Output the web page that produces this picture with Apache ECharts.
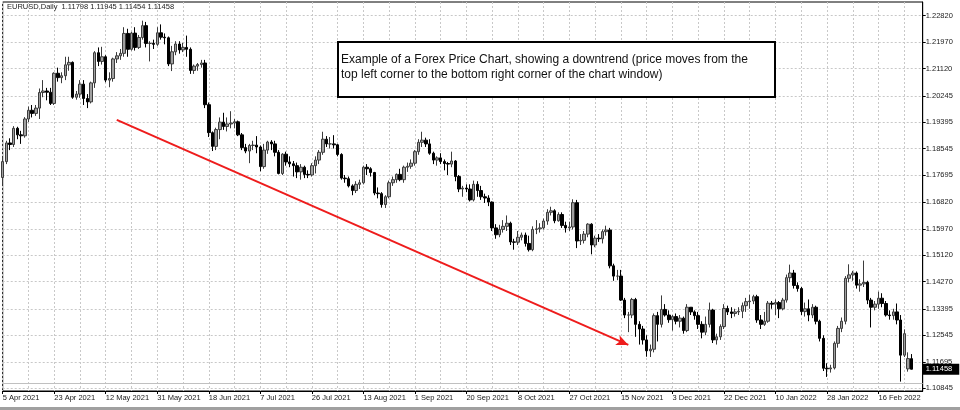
<!DOCTYPE html>
<html>
<head>
<meta charset="utf-8">
<title>EURUSD Daily</title>
<script src="https://cdn.jsdelivr.net/npm/echarts@6.0.0/dist/echarts.min.js"></script>
<style>
html, body { margin: 0; padding: 0; background: #fff; }
#chart { width: 960px; height: 410px; }
</style>
</head>
<body>
<div id="chart"></div>
<script>
var symbolName = 'EURUSD,Daily';

// one date label every 14 bars, a grid line every 7
var dateLabels = ['5 Apr 2021', '23 Apr 2021', '12 May 2021', '31 May 2021', '18 Jun 2021', '7 Jul 2021',
    '26 Jul 2021', '13 Aug 2021', '1 Sep 2021', '20 Sep 2021', '8 Oct 2021', '27 Oct 2021',
    '15 Nov 2021', '3 Dec 2021', '22 Dec 2021', '10 Jan 2022', '28 Jan 2022', '16 Feb 2022'];
var labelStep = 14;
var gridStep = 7;

var priceTicks = [1.22820, 1.21970, 1.21120, 1.20245, 1.19395, 1.18545, 1.17695, 1.16820,
    1.15970, 1.15120, 1.14270, 1.13395, 1.12545, 1.11695, 1.10845];
var bidPrice = 1.11458;

// daily bars: [open, close, low, high]
var candles = [
    [1.1762, 1.1813, 1.1740, 1.1826], [1.1813, 1.1873, 1.1805, 1.1880], [1.1873, 1.1868, 1.1850, 1.1888],
    [1.1868, 1.1920, 1.1860, 1.1927], [1.1920, 1.1899, 1.1885, 1.1925], [1.1899, 1.1896, 1.1870, 1.1912],
    [1.1896, 1.1950, 1.1890, 1.1956], [1.1950, 1.1978, 1.1940, 1.1990], [1.1978, 1.1968, 1.1955, 1.1995],
    [1.1968, 1.1985, 1.1960, 1.1995], [1.1985, 1.2035, 1.1950, 1.2048], [1.2035, 1.2040, 1.2020, 1.2075],
    [1.2040, 1.2036, 1.2010, 1.2050], [1.2036, 1.2000, 1.1995, 1.2050], [1.2000, 1.2097, 1.1995, 1.2100],
    [1.2097, 1.2083, 1.2070, 1.2115], [1.2083, 1.2089, 1.2065, 1.2100], [1.2089, 1.2124, 1.2075, 1.2150],
    [1.2124, 1.2132, 1.2105, 1.2150], [1.2132, 1.2020, 1.2015, 1.2135], [1.2020, 1.2030, 1.2012, 1.2040],
    [1.2030, 1.2062, 1.2018, 1.2075], [1.2062, 1.2016, 1.1995, 1.2075], [1.2016, 1.2005, 1.1985, 1.2030],
    [1.2005, 1.2066, 1.2000, 1.2070], [1.2066, 1.2163, 1.2050, 1.2168], [1.2163, 1.2135, 1.2120, 1.2180],
    [1.2135, 1.2150, 1.2125, 1.2182], [1.2150, 1.2075, 1.2068, 1.2155], [1.2075, 1.2080, 1.2052, 1.2100],
    [1.2080, 1.2143, 1.2070, 1.2147], [1.2143, 1.2153, 1.2130, 1.2165], [1.2153, 1.2161, 1.2140, 1.2175],
    [1.2161, 1.2225, 1.2150, 1.2245], [1.2225, 1.2174, 1.2150, 1.2240], [1.2174, 1.2226, 1.2170, 1.2230],
    [1.2226, 1.2180, 1.2170, 1.2245], [1.2180, 1.2212, 1.2175, 1.2220], [1.2212, 1.2250, 1.2205, 1.2266],
    [1.2250, 1.2193, 1.2180, 1.2262], [1.2193, 1.2193, 1.2135, 1.2200], [1.2193, 1.2190, 1.2175, 1.2205],
    [1.2190, 1.2227, 1.2185, 1.2245], [1.2227, 1.2213, 1.2205, 1.2254], [1.2213, 1.2211, 1.2190, 1.2225],
    [1.2211, 1.2127, 1.2120, 1.2215], [1.2127, 1.2166, 1.2104, 1.2185], [1.2166, 1.2191, 1.2155, 1.2200],
    [1.2191, 1.2172, 1.2160, 1.2200], [1.2172, 1.2180, 1.2165, 1.2195], [1.2180, 1.2174, 1.2150, 1.2218],
    [1.2174, 1.2106, 1.2095, 1.2180], [1.2106, 1.2120, 1.2095, 1.2125], [1.2120, 1.2125, 1.2105, 1.2130],
    [1.2125, 1.2130, 1.2115, 1.2140], [1.2130, 1.1996, 1.1985, 1.2140], [1.1996, 1.1906, 1.1892, 1.2003],
    [1.1906, 1.1862, 1.1847, 1.1910], [1.1862, 1.1916, 1.1850, 1.1922], [1.1916, 1.1940, 1.1885, 1.1955],
    [1.1940, 1.1926, 1.1915, 1.1970], [1.1926, 1.1934, 1.1910, 1.1955], [1.1934, 1.1937, 1.1920, 1.1975],
    [1.1937, 1.1941, 1.1920, 1.1950], [1.1941, 1.1899, 1.1895, 1.1945], [1.1899, 1.1858, 1.1850, 1.1905],
    [1.1858, 1.1847, 1.1840, 1.1870], [1.1847, 1.1865, 1.1808, 1.1870], [1.1865, 1.1866, 1.1850, 1.1880],
    [1.1866, 1.1860, 1.1840, 1.1895], [1.1860, 1.1797, 1.1782, 1.1865], [1.1797, 1.1850, 1.1790, 1.1870],
    [1.1850, 1.1876, 1.1838, 1.1880], [1.1876, 1.1870, 1.1850, 1.1882], [1.1870, 1.1843, 1.1830, 1.1880],
    [1.1843, 1.1775, 1.1772, 1.1850], [1.1775, 1.1837, 1.1770, 1.1840], [1.1837, 1.1812, 1.1800, 1.1845],
    [1.1812, 1.1806, 1.1795, 1.1830], [1.1806, 1.1800, 1.1765, 1.1815], [1.1800, 1.1780, 1.1760, 1.1810],
    [1.1780, 1.1795, 1.1755, 1.1805], [1.1795, 1.1772, 1.1760, 1.1800], [1.1772, 1.1770, 1.1760, 1.1785],
    [1.1770, 1.1800, 1.1765, 1.1808], [1.1800, 1.1818, 1.1775, 1.1830], [1.1818, 1.1843, 1.1805, 1.1850],
    [1.1843, 1.1885, 1.1835, 1.1909], [1.1885, 1.1870, 1.1860, 1.1895], [1.1870, 1.1870, 1.1855, 1.1892],
    [1.1870, 1.1867, 1.1855, 1.1898], [1.1867, 1.1836, 1.1830, 1.1870], [1.1836, 1.1760, 1.1755, 1.1840],
    [1.1760, 1.1758, 1.1745, 1.1770], [1.1758, 1.1735, 1.1730, 1.1765], [1.1735, 1.1720, 1.1705, 1.1740],
    [1.1720, 1.1740, 1.1712, 1.1750], [1.1740, 1.1745, 1.1725, 1.1755], [1.1745, 1.1795, 1.1740, 1.1800],
    [1.1795, 1.1790, 1.1770, 1.1805], [1.1790, 1.1778, 1.1765, 1.1795], [1.1778, 1.1712, 1.1705, 1.1780],
    [1.1712, 1.1710, 1.1695, 1.1730], [1.1710, 1.1675, 1.1665, 1.1715], [1.1675, 1.1700, 1.1664, 1.1705],
    [1.1700, 1.1745, 1.1695, 1.1752], [1.1745, 1.1755, 1.1735, 1.1765], [1.1755, 1.1772, 1.1745, 1.1775],
    [1.1772, 1.1755, 1.1750, 1.1790], [1.1755, 1.1795, 1.1745, 1.1800], [1.1795, 1.1798, 1.1780, 1.1810],
    [1.1798, 1.1808, 1.1790, 1.1820], [1.1808, 1.1845, 1.1800, 1.1850], [1.1845, 1.1875, 1.1835, 1.1885],
    [1.1875, 1.1882, 1.1860, 1.1909], [1.1882, 1.1870, 1.1860, 1.1890], [1.1870, 1.1840, 1.1835, 1.1885],
    [1.1840, 1.1818, 1.1805, 1.1845], [1.1818, 1.1825, 1.1800, 1.1830], [1.1825, 1.1813, 1.1805, 1.1840],
    [1.1813, 1.1807, 1.1785, 1.1820], [1.1807, 1.1805, 1.1770, 1.1812], [1.1805, 1.1815, 1.1795, 1.1845],
    [1.1815, 1.1765, 1.1750, 1.1818], [1.1765, 1.1725, 1.1715, 1.1770], [1.1725, 1.1728, 1.1700, 1.1735],
    [1.1728, 1.1725, 1.1715, 1.1740], [1.1725, 1.1690, 1.1685, 1.1740], [1.1690, 1.1740, 1.1685, 1.1752],
    [1.1740, 1.1720, 1.1700, 1.1750], [1.1720, 1.1700, 1.1690, 1.1735], [1.1700, 1.1696, 1.1680, 1.1710],
    [1.1696, 1.1683, 1.1670, 1.1705], [1.1683, 1.1600, 1.1590, 1.1685], [1.1600, 1.1578, 1.1565, 1.1612],
    [1.1578, 1.1595, 1.1570, 1.1610], [1.1595, 1.1605, 1.1585, 1.1625], [1.1605, 1.1615, 1.1590, 1.1640],
    [1.1615, 1.1555, 1.1545, 1.1620], [1.1555, 1.1554, 1.1530, 1.1565], [1.1554, 1.1570, 1.1545, 1.1590],
    [1.1570, 1.1577, 1.1560, 1.1585], [1.1577, 1.1550, 1.1540, 1.1585], [1.1550, 1.1530, 1.1524, 1.1575],
    [1.1530, 1.1595, 1.1525, 1.1605], [1.1595, 1.1597, 1.1580, 1.1625], [1.1597, 1.1600, 1.1585, 1.1615],
    [1.1600, 1.1622, 1.1595, 1.1630], [1.1622, 1.1650, 1.1610, 1.1660], [1.1650, 1.1655, 1.1640, 1.1668],
    [1.1655, 1.1623, 1.1615, 1.1660], [1.1623, 1.1643, 1.1620, 1.1650], [1.1643, 1.1608, 1.1600, 1.1650],
    [1.1608, 1.1600, 1.1585, 1.1620], [1.1600, 1.1603, 1.1590, 1.1620], [1.1603, 1.1681, 1.1595, 1.1692],
    [1.1681, 1.1558, 1.1535, 1.1690], [1.1558, 1.1560, 1.1545, 1.1580], [1.1560, 1.1580, 1.1550, 1.1590],
    [1.1580, 1.1612, 1.1570, 1.1615], [1.1612, 1.1545, 1.1515, 1.1615], [1.1545, 1.1567, 1.1538, 1.1575],
    [1.1567, 1.1565, 1.1555, 1.1580], [1.1565, 1.1588, 1.1550, 1.1595], [1.1588, 1.1593, 1.1575, 1.1607],
    [1.1593, 1.1478, 1.1470, 1.1600], [1.1478, 1.1445, 1.1430, 1.1485], [1.1445, 1.1445, 1.1432, 1.1465],
    [1.1445, 1.1368, 1.1365, 1.1465], [1.1368, 1.1320, 1.1310, 1.1375], [1.1320, 1.1320, 1.1265, 1.1330],
    [1.1320, 1.1370, 1.1310, 1.1375], [1.1370, 1.1290, 1.1250, 1.1375], [1.1290, 1.1275, 1.1225, 1.1300],
    [1.1275, 1.1240, 1.1225, 1.1285], [1.1240, 1.1205, 1.1186, 1.1255], [1.1205, 1.1210, 1.1185, 1.1225],
    [1.1210, 1.1318, 1.1200, 1.1325], [1.1318, 1.1290, 1.1235, 1.1330], [1.1290, 1.1338, 1.1280, 1.1383],
    [1.1338, 1.1320, 1.1315, 1.1355], [1.1320, 1.1305, 1.1295, 1.1335], [1.1305, 1.1315, 1.1270, 1.1320],
    [1.1315, 1.1300, 1.1290, 1.1325], [1.1300, 1.1310, 1.1280, 1.1320], [1.1310, 1.1270, 1.1260, 1.1315],
    [1.1270, 1.1345, 1.1265, 1.1355], [1.1345, 1.1330, 1.1320, 1.1345], [1.1330, 1.1318, 1.1305, 1.1335],
    [1.1318, 1.1290, 1.1275, 1.1330], [1.1290, 1.1265, 1.1245, 1.1300], [1.1265, 1.1290, 1.1255, 1.1315],
    [1.1290, 1.1336, 1.1280, 1.1360], [1.1336, 1.1240, 1.1230, 1.1340], [1.1240, 1.1250, 1.1225, 1.1260],
    [1.1250, 1.1283, 1.1240, 1.1290], [1.1283, 1.1341, 1.1275, 1.1355], [1.1341, 1.1330, 1.1320, 1.1350],
    [1.1330, 1.1325, 1.1310, 1.1345], [1.1325, 1.1330, 1.1315, 1.1340], [1.1330, 1.1332, 1.1320, 1.1345],
    [1.1332, 1.1350, 1.1310, 1.1360], [1.1350, 1.1363, 1.1330, 1.1375], [1.1363, 1.1365, 1.1340, 1.1385],
    [1.1365, 1.1379, 1.1355, 1.1385], [1.1379, 1.1304, 1.1295, 1.1385], [1.1304, 1.1290, 1.1275, 1.1320],
    [1.1290, 1.1300, 1.1285, 1.1330], [1.1300, 1.1358, 1.1295, 1.1365], [1.1358, 1.1355, 1.1340, 1.1365],
    [1.1355, 1.1360, 1.1320, 1.1370], [1.1360, 1.1340, 1.1310, 1.1365], [1.1340, 1.1368, 1.1335, 1.1375],
    [1.1368, 1.1440, 1.1360, 1.1450], [1.1440, 1.1455, 1.1425, 1.1482], [1.1455, 1.1415, 1.1405, 1.1465],
    [1.1415, 1.1405, 1.1395, 1.1425], [1.1405, 1.1331, 1.1320, 1.1410], [1.1331, 1.1340, 1.1315, 1.1360],
    [1.1340, 1.1320, 1.1300, 1.1370], [1.1320, 1.1345, 1.1310, 1.1355], [1.1345, 1.1300, 1.1290, 1.1350],
    [1.1300, 1.1245, 1.1235, 1.1305], [1.1245, 1.1149, 1.1140, 1.1255], [1.1149, 1.1147, 1.1121, 1.1165],
    [1.1147, 1.1150, 1.1135, 1.1160], [1.1150, 1.1229, 1.1145, 1.1235], [1.1229, 1.1277, 1.1215, 1.1285],
    [1.1277, 1.1300, 1.1265, 1.1312], [1.1300, 1.1438, 1.1290, 1.1445], [1.1438, 1.1449, 1.1425, 1.1483],
    [1.1449, 1.1455, 1.1430, 1.1462], [1.1455, 1.1416, 1.1405, 1.1460], [1.1416, 1.1420, 1.1395, 1.1435],
    [1.1420, 1.1425, 1.1410, 1.1495], [1.1425, 1.1368, 1.1355, 1.1430], [1.1368, 1.1345, 1.1280, 1.1375],
    [1.1345, 1.1355, 1.1335, 1.1365], [1.1355, 1.1374, 1.1340, 1.1395], [1.1374, 1.1357, 1.1345, 1.1390],
    [1.1357, 1.1320, 1.1315, 1.1365], [1.1320, 1.1318, 1.1305, 1.1335], [1.1318, 1.1330, 1.1305, 1.1340],
    [1.1330, 1.1304, 1.1290, 1.1357], [1.1304, 1.1191, 1.1106, 1.1320], [1.1191, 1.1260, 1.1185, 1.1274],
    [1.1147, 1.1180, 1.1138, 1.1200], [1.11798, 1.11458, 1.11454, 1.11945]
];

var noteLines = [
    'Example of a Forex Price Chart, showing a downtrend (price moves from the',
    'top left corner to the bottom right corner of the chart window)'
];
// red trend arrow, [bar index, price] at each end
var trendArrow = [[31, 1.1947], [170, 1.1224]];
var emptyBars = 3;

var categories = [];
for (var i = 0; i < candles.length + emptyBars; i++) {
    categories.push(i);
}

var last = candles[candles.length - 1];
var headerText = symbolName + '  ' + [last[0], last[3], last[2], last[1]].map(function (v) {
    return v.toFixed(5);
}).join(' ');

var fontName = 'Liberation Sans';
var gridColor = '#c8c8c8';
var priceMin = 1.10758;
var priceMax = 1.23260;

var myChart = echarts.init(document.getElementById('chart'));
var option = {
    animation: false,
    backgroundColor: '#fff',
    textStyle: { fontFamily: fontName },
    grid: {
        left: 2.7,
        right: 37.3,
        top: 2,
        bottom: 19,
        outerBoundsMode: 'none',
        containLabel: false,
        show: true,
        borderColor: '#000',
        borderWidth: 1
    },
    xAxis: {
        type: 'category',
        data: categories,
        boundaryGap: false,
        axisLine: { lineStyle: { color: '#000' } },
        axisTick: {
            show: true,
            length: 3,
            interval: function (index) { return index % labelStep === 0; },
            lineStyle: { color: '#000' }
        },
        axisLabel: {
            interval: function (index) { return index % labelStep === 0; },
            formatter: function (value, index) {
                return dateLabels[index / labelStep] || '';
            },
            align: 'left',
            margin: 3,
            fontSize: 7.5,
            color: '#1a1a1a'
        },
        splitLine: {
            show: true,
            interval: function (index) { return index % gridStep === 0; },
            lineStyle: { color: gridColor, type: [2, 2] }
        }
    },
    yAxis: [{
        type: 'value',
        position: 'right',
        min: priceMin,
        max: priceMax,
        axisLine: { show: true, lineStyle: { color: '#000' } },
        axisTick: {
            show: true,
            length: 3,
            customValues: priceTicks,
            lineStyle: { color: '#000' }
        },
        axisLabel: {
            customValues: priceTicks,
            showMinLabel: true,
            showMaxLabel: true,
            hideOverlap: false,
            formatter: function (v) { return v.toFixed(5); },
            margin: 3,
            fontSize: 7.5,
            color: '#1a1a1a'
        },
        splitLine: {
            show: true,
            lineStyle: { color: gridColor, type: [2, 2] }
        }
    }, {
        // bid price box on the price scale
        type: 'value',
        position: 'right',
        min: priceMin,
        max: priceMax,
        axisLine: { show: false },
        axisTick: { show: false },
        splitLine: { show: false },
        axisLabel: {
            customValues: [bidPrice],
            formatter: function (v) { return v.toFixed(5); },
            margin: 0,
            fontSize: 7.5,
            color: '#fff',
            backgroundColor: '#000',
            padding: [2, 7, 1, 3]
        }
    }],
    series: [{
        type: 'candlestick',
        data: candles,
        barWidth: 3,
        itemStyle: {
            color: '#a0a0a0',
            color0: '#000',
            borderColor: '#3c3c3c',
            borderColor0: '#000',
            borderWidth: 1
        },
        markLine: {
            silent: true,
            animation: false,
            symbol: 'none',
            label: { show: false },
            data: [
                {
                    yAxis: bidPrice,
                    lineStyle: { color: '#c0c0c0', type: 'solid', width: 1 }
                },
                [
                    {
                        coord: trendArrow[0],
                        symbol: 'none',
                        lineStyle: { color: '#ee1c1c', width: 2, type: 'solid' }
                    },
                    {
                        coord: trendArrow[1],
                        symbol: 'arrow',
                        symbolSize: [8, 12],
                        lineStyle: { color: '#ee1c1c', width: 2, type: 'solid' }
                    }
                ]
            ]
        }
    }],
    graphic: [
        {
            type: 'text',
            left: 7,
            top: 3,
            z: 100,
            style: { text: headerText, fontSize: 7.5, fontFamily: fontName, fill: '#222' }
        },
        {
            type: 'rect',
            z: 100,
            shape: { x: 338, y: 42, width: 437, height: 55 },
            style: { fill: '#fff', stroke: '#000', lineWidth: 2 }
        },
        {
            type: 'text',
            z: 101,
            x: 341,
            y: 52,
            style: {
                text: noteLines.join('\n'),
                fontSize: 12,
                lineHeight: 15,
                fontFamily: fontName,
                fill: '#111'
            }
        },
        {
            type: 'rect',
            z: 100,
            shape: { x: 0, y: 407, width: 960, height: 3 },
            style: { fill: '#a0a0a0' }
        }
    ]
};
myChart.setOption(option, true);
</script>
</body>
</html>
